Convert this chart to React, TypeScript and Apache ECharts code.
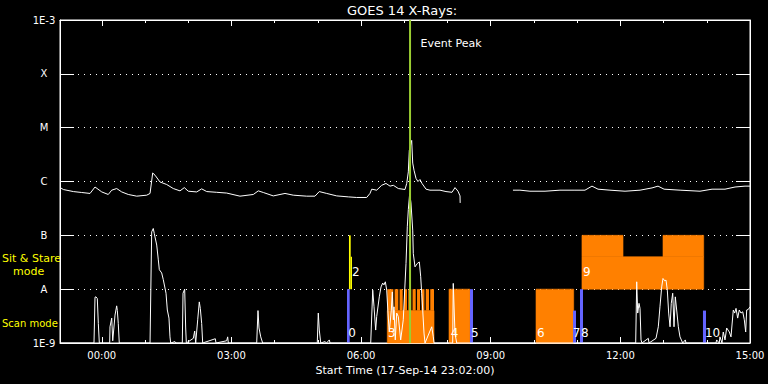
import React, { useEffect, useRef } from 'react';
import * as echarts from 'echarts';

// x axis: minutes relative to 00:00 (start time 23:02 the previous day)
const X_MIN = -58;
const X_MAX = 900;
const xMajorTicks = [0, 180, 360, 540, 720, 900];
const xTickLabels = ['00:00', '03:00', '06:00', '09:00', '12:00', '15:00'];
const xMinorTicks = [0, 60, 120, 180, 240, 300, 360, 420, 480, 540, 600, 660, 720, 780, 840, 900];
const yTickLabels = ['1E-9', 'A', 'B', 'C', 'M', 'X', '1E-3'];

// GOES 14 long channel (1-8 A), W/m^2
const longChannel: [number, number | null][] = [
  [-57, 7.6e-7], [-53.4, 7.1e-7], [-39.5, 6.5e-7], [-27.9, 6.25e-7], [-16.3, 6.0e-7], [-9.4, 7.9e-7],
  [0, 6.4e-7], [9, 5.74e-7], [13.8, 6.9e-7], [20.7, 7.4e-7], [27.7, 6.4e-7], [36.8, 5.74e-7],
  [48.5, 5.34e-7], [62.4, 5.57e-7], [67, 6.0e-7], [70.7, 1.44e-6], [73.9, 1.31e-6], [80.8, 9.8e-7],
  [90.1, 8.8e-7], [99.3, 7.4e-7], [108.6, 6.7e-7], [114.6, 7.7e-7], [120.1, 6.6e-7], [131.8, 6.4e-7],
  [138.7, 7.3e-7], [145.7, 6.5e-7], [159.6, 6.3e-7], [173.4, 6.1e-7], [191.9, 5.34e-7], [210.4, 5.74e-7],
  [217.3, 6.7e-7], [224.3, 6.25e-7], [238.1, 5.4e-7], [254.4, 6.0e-7], [265.9, 5.57e-7], [284.5, 5.34e-7],
  [296, 5.34e-7], [302, 6.5e-7], [312.3, 6.0e-7], [326.2, 5.4e-7], [342.3, 5.18e-7], [353.9, 5.05e-7],
  [367.8, 5.05e-7], [372.4, 6.0e-7], [374.8, 7.2e-7], [381.7, 6.9e-7], [388.6, 8.5e-7], [394.6, 9.2e-7],
  [400.2, 8.2e-7], [404.8, 8.5e-7], [411.7, 7.4e-7], [421, 7.1e-7], [423.4, 9.2e-7], [425.6, 1.51e-6],
  [427, 3.8e-6], [430.3, 5.8e-6], [431.7, 2.2e-6], [433.5, 1.62e-6], [436.3, 1.14e-6], [439, 1.0e-6],
  [441.8, 1.09e-6], [444.6, 9.2e-7], [450.2, 7.2e-7], [455.7, 6.9e-7], [469.6, 6.9e-7], [477.9, 6.5e-7],
  [486.3, 6.3e-7], [490.4, 7.7e-7], [494.6, 6.6e-7], [497.4, 5.4e-7], [497.6, 4.0e-7], [498, null],
  [570.9, 6.9e-7], [580.6, 6.9e-7], [594.5, 6.6e-7], [615.4, 6.6e-7], [636.2, 6.9e-7], [657, 6.9e-7],
  [670.9, 6.9e-7], [680.6, 8.2e-7], [689, 7.2e-7], [705.6, 6.9e-7], [726.5, 6.6e-7], [747.3, 6.9e-7],
  [764, 7.6e-7], [772.3, 8.2e-7], [780.7, 7.2e-7], [802.9, 6.9e-7], [830.6, 6.6e-7], [847.3, 7.2e-7],
  [865.3, 7.2e-7], [879.2, 7.9e-7], [893.1, 8.2e-7], [900, 8.2e-7],
];

// GOES 14 short channel (0.5-4 A), W/m^2 (floor at 1E-9)
const shortChannel: [number, number][] = [
  [-58, 1e-9], [-10.8, 1e-9], [-9.4, 7.1e-9], [-8, 7.2e-9], [-6.2, 6.7e-9], [-4.8, 2.3e-9], [-3.4, 1e-9],
  [11, 1e-9], [11.4, 2e-9], [13.8, 2.9e-9], [15.2, 1.1e-9], [18.4, 3.3e-9], [20.7, 4.9e-9], [21.6, 4e-9],
  [22.9, 2.3e-9], [24.3, 1e-9],
  [67, 1e-9], [69.3, 1.16e-7], [71.5, 1.34e-7], [72.9, 1.08e-7], [76.3, 6.6e-8], [78.5, 3.5e-8],
  [79.9, 2.3e-8], [83.2, 2e-8], [85.4, 1.5e-8], [89.2, 8.4e-9], [91, 4.1e-9], [93.3, 2.9e-9],
  [94.7, 1.3e-9], [95.7, 1e-9], [101.7, 1.06e-9], [103, 1e-9],
  [111.8, 1e-9], [112.8, 8.4e-9], [115.1, 1e-8], [116.5, 1.9e-9], [117.4, 1e-9],
  [127.1, 1.22e-9], [129, 1.67e-9], [130.4, 1e-9], [133.2, 2.7e-9], [135.4, 5.8e-9], [136.8, 4.4e-9],
  [138.7, 2.3e-9], [140.1, 1e-9], [157.6, 1.2e-9], [158.6, 1e-9], [173.4, 1.1e-9], [174.8, 1.3e-9],
  [175.7, 1e-9], [215.1, 1e-9], [216.9, 4e-9], [218.3, 1.9e-9], [220.7, 1.3e-9], [223.4, 1e-9],
  [299.2, 1e-9], [300.6, 3.6e-9], [302, 1.74e-9], [304, 1e-9], [309.9, 1.06e-9], [312, 1e-9],
  [315.9, 1.14e-9], [316.9, 1e-9],
  [373.4, 1e-9], [376.2, 9.6e-9], [378, 4.7e-9], [380.3, 1.74e-9], [381.7, 3.1e-9], [385.3, 7.2e-9],
  [387.7, 1.1e-8], [390, 1.3e-8], [391.8, 1.2e-8], [393.7, 1.37e-8], [395.6, 9.6e-9], [397.4, 3.6e-9],
  [399.2, 1.6e-9], [402, 4.1e-9], [403.4, 8.9e-9], [404.8, 2.7e-9], [405.7, 4.7e-9], [407.5, 1.14e-9],
  [409.5, 3.6e-9], [411.7, 3.1e-9], [415, 1.14e-9], [418.6, 2.7e-9], [422.4, 3e-8], [424.2, 1.44e-7],
  [425.6, 3e-7], [427.5, 6e-7], [429.3, 4e-7], [431.7, 1.25e-7], [432.5, 4.6e-8], [434.9, 2.6e-8],
  [438.1, 3e-8], [440.9, 3.2e-8], [442.8, 1.7e-8], [444.2, 8.4e-9], [445.6, 4.1e-9], [447.4, 1.53e-9],
  [448.8, 1e-9], [458.1, 2e-9], [460.3, 1.3e-9], [461.3, 1e-9],
  [487.2, 1e-9], [488, 1.28e-8], [490.4, 1.5e-9], [492.8, 1e-9],
  [741.3, 1e-9], [742.7, 1.37e-8], [744.1, 3.6e-9], [745.9, 5.45e-9], [747.3, 4.4e-9], [748.7, 1.14e-9],
  [750, 1e-9], [758.8, 1.22e-9], [759.8, 1e-9],
  [769.5, 1.22e-9], [772.7, 2e-9], [775, 4.7e-9], [777.4, 1.1e-8], [779.2, 1.58e-8], [781.6, 1.43e-8],
  [783.4, 1.47e-8], [785.2, 9.6e-9], [787.1, 3.6e-9], [789, 2e-9], [790.7, 5.45e-9], [792.7, 8.4e-9],
  [794.5, 2e-9], [796.3, 7.2e-9], [798.2, 4.1e-9], [800.5, 2e-9], [802.8, 1.3e-9], [806.6, 1e-9],
  [810.2, 1.14e-9], [811.1, 1e-9],
  [852.8, 1e-9], [853.7, 1.14e-9], [857.3, 1e-9], [858.3, 1.3e-9], [861.1, 1e-9], [862.9, 1.6e-9],
  [865.3, 1.14e-9], [867.6, 1.9e-9], [871.3, 1.6e-9], [873.6, 1.3e-9], [876.8, 4.1e-9], [878.7, 3.6e-9],
  [880.6, 4.4e-9], [882.9, 2.9e-9], [885.1, 4.1e-9], [887.5, 3.6e-9], [889.9, 3.8e-9], [892.1, 2.7e-9],
  [894, 1.6e-9], [895.4, 4.1e-9], [897.6, 4.2e-9], [900, 4.7e-9],
];

// observation blocks: [start min, end min, low flux, high flux, kind] kind 0=orange raster, 1=blue scan, 2=yellow sit&stare
const modeBoxes: number[][] = [
  [396.4, 461.3, 1e-9, 4e-9, 0],
  [396.4, 404.8, 4e-9, 1e-8, 0], [406.6, 411.7, 4e-9, 1e-8, 0], [413.5, 417.8, 4e-9, 1e-8, 0],
  [419.6, 423.8, 4e-9, 1e-8, 0], [425.6, 429.7, 4e-9, 1e-8, 0], [431.5, 435.9, 4e-9, 1e-8, 0],
  [437.7, 441.8, 4e-9, 1e-8, 0], [443.9, 448.0, 4e-9, 1e-8, 0], [449.8, 454.3, 4e-9, 1e-8, 0],
  [456.1, 461.3, 4e-9, 1e-8, 0],
  [482.1, 511.2, 1e-9, 1e-8, 0],
  [602.9, 655.2, 1e-9, 1e-8, 0],
  [666.7, 835.7, 1e-8, 4e-8, 0],
  [666.7, 723.7, 4e-8, 1e-7, 0],
  [779.2, 835.7, 4e-8, 1e-7, 0],
  [340.5, 344.2, 1e-9, 1e-8, 1],
  [511.2, 515.4, 1e-9, 1e-8, 1],
  [654.3, 658.4, 1e-9, 4e-9, 1],
  [664.0, 668.1, 1e-9, 1e-8, 1],
  [834.7, 838.9, 1e-9, 4e-9, 1],
  [343.2, 345.6, 1e-8, 1e-7, 2],
  [345.6, 347.4, 1e-8, 4e-8, 2],
];
const modeColors = ['#FF8000', '#6464FF', '#FFFF00'];

const boxLabelText = ['0', '2', '3', '4', '5', '6', '7', '8', '9', '10'];
const boxLabelTime = [342.3, 347.4, 397.4, 484.5, 512.6, 604.3, 653.8, 665.2, 668.2, 837.5];
const boxLabelFlux = [1.53e-9, 2.07e-8, 1.53e-9, 1.53e-9, 1.53e-9, 1.53e-9, 1.53e-9, 1.53e-9, 2.07e-8, 1.53e-9];

const eventPeakTime = 428;
const eventLabelFlux = 3.7e-4;

const FONT = 'DejaVu Sans';

function fmtTime(v: number): string {
  const i = xMajorTicks.indexOf(Math.round(v));
  return i >= 0 ? xTickLabels[i] : '';
}
function fmtFlux(v: number): string {
  const i = Math.round(Math.log10(v)) + 9;
  return yTickLabels[i] ?? '';
}

function baseX(position: 'top' | 'bottom', major: boolean, extra: any = {}) {
  return {
    type: 'value',
    min: X_MIN,
    max: X_MAX,
    position,
    axisLine: { show: major, onZero: false, lineStyle: { color: '#fff', width: 1 } },
    axisTick: {
      show: true,
      inside: true,
      length: major ? 6 : 3,
      customValues: major ? xMajorTicks : xMinorTicks,
      lineStyle: { color: '#fff', width: 1 },
    },
    axisLabel: { show: false },
    splitLine: { show: false },
    ...extra,
  };
}

export default function App() {
  const ref = useRef<HTMLDivElement>(null);
  useEffect(() => {
    if (!ref.current) return;
    const chart = echarts.init(ref.current, undefined, { renderer: 'svg' });
    const option: any = {
      animation: false,
      backgroundColor: '#000',
      grid: {
        left: 60, right: 18, top: 20, bottom: 41,
        show: true, borderColor: '#fff', borderWidth: 1, backgroundColor: 'transparent',
        outerBoundsMode: 'none',
      },
      graphic: [
        { type: 'text', x: 402, y: 10.5, style: { text: 'GOES 14 X-Rays:', align: 'center', verticalAlign: 'middle', fill: '#fff', font: `13px "${FONT}"` } },
        { type: 'text', x: 2, y: 258.5, style: { text: 'Sit & Stare', align: 'left', verticalAlign: 'middle', fill: '#FFFF00', font: `11px "${FONT}"` } },
        { type: 'text', x: 13, y: 271, style: { text: 'mode', align: 'left', verticalAlign: 'middle', fill: '#FFFF00', font: `11px "${FONT}"` } },
        { type: 'text', x: 2, y: 323.5, style: { text: 'Scan mode', align: 'left', verticalAlign: 'middle', fill: '#FFFF00', font: `10px "${FONT}"` } },
      ],
      xAxis: [
        baseX('bottom', true, {
          axisLabel: { show: true, customValues: xMajorTicks, formatter: fmtTime, color: '#fff', fontSize: 10, fontFamily: FONT, margin: 7 },
          name: 'Start Time (17-Sep-14 23:02:00)',
          nameLocation: 'middle',
          nameGap: 20,
          nameTextStyle: { color: '#fff', fontSize: 11, fontFamily: FONT },
        }),
        baseX('bottom', false),
        baseX('top', true),
        baseX('top', false),
      ],
      yAxis: [
        {
          type: 'log', logBase: 10, min: 1e-9, max: 1e-3, position: 'left',
          axisLine: { show: true, onZero: false, lineStyle: { color: '#fff' } },
          axisTick: { show: true, inside: true, length: 14, lineStyle: { color: '#fff' } },
          minorTick: { show: false },
          axisLabel: { formatter: fmtFlux, color: '#fff', fontSize: 10, fontFamily: FONT, align: 'center', margin: 16 },
          splitLine: { show: true, lineStyle: { color: '#fff', width: 1, type: [1, 5] } },
        },
        {
          type: 'log', logBase: 10, min: 1e-9, max: 1e-3, position: 'right',
          axisLine: { show: true, onZero: false, lineStyle: { color: '#fff' } },
          axisTick: { show: true, inside: true, length: 14, lineStyle: { color: '#fff' } },
          axisLabel: { show: false },
          splitLine: { show: false },
        },
      ],
      series: [
        {
          type: 'custom',
          name: 'modes',
          xAxisIndex: 0, yAxisIndex: 0,
          z: 1, silent: true,
          encode: { x: [0, 1], y: [2, 3] },
          data: modeBoxes,
          renderItem: (params: any, api: any) => {
            const p0 = api.coord([api.value(0), api.value(3)]);
            const p1 = api.coord([api.value(1), api.value(2)]);
            const c = modeColors[api.value(4)];
            const w = p1[0] - p0[0];
            return {
              type: 'rect',
              shape: { x: p0[0], y: p0[1], width: w, height: p1[1] - p0[1] },
              style: w > 8 ? { fill: c, stroke: c, lineWidth: 0.6 } : { fill: c },
            };
          },
        },
        {
          type: 'line', name: 'long', xAxisIndex: 0, yAxisIndex: 0, z: 3, silent: true,
          data: longChannel, symbol: 'none', showSymbol: false, connectNulls: false,
          lineStyle: { color: '#fff', width: 1 },
        },
        {
          type: 'line', name: 'short', xAxisIndex: 0, yAxisIndex: 0, z: 3, silent: true,
          data: shortChannel, symbol: 'none', showSymbol: false,
          lineStyle: { color: '#fff', width: 1 },
        },
        {
          type: 'custom',
          name: 'labels',
          xAxisIndex: 0, yAxisIndex: 0,
          z: 4, silent: true,
          encode: { x: 0, y: 1 },
          data: boxLabelTime.map((t, i) => [t, boxLabelFlux[i]]),
          renderItem: (params: any, api: any) => {
            const p = api.coord([api.value(0), api.value(1)]);
            return {
              type: 'text',
              style: {
                text: boxLabelText[params.dataIndex],
                x: p[0], y: p[1],
                align: 'left', verticalAlign: 'middle',
                fill: '#fff',
                font: `12px "${FONT}"`,
              },
            };
          },
        },
        {
          type: 'custom',
          name: 'event',
          xAxisIndex: 0, yAxisIndex: 0,
          z: 5, silent: true,
          encode: { x: 0, y: 1 },
          data: [[eventPeakTime, eventLabelFlux]],
          renderItem: (params: any, api: any) => {
            const top = api.coord([api.value(0), 1e-3]);
            const bot = api.coord([api.value(0), 1e-9]);
            const lab = api.coord([api.value(0), api.value(1)]);
            return {
              type: 'group',
              children: [
                { type: 'line', shape: { x1: top[0], y1: top[1], x2: bot[0], y2: bot[1] }, style: { stroke: '#9ACD32', lineWidth: 2 } },
                { type: 'text', style: { text: 'Event Peak', x: lab[0] + 10.5, y: lab[1], align: 'left', verticalAlign: 'middle', fill: '#fff', font: `11px "${FONT}"` } },
              ],
            };
          },
        },
      ],
    };
    chart.setOption(option);
    return () => chart.dispose();
  }, []);
  return (
    <div
      ref={ref}
      style={{ position: 'fixed', left: 0, top: 0, width: 768, height: 384, background: '#000' }}
    />
  );
}
